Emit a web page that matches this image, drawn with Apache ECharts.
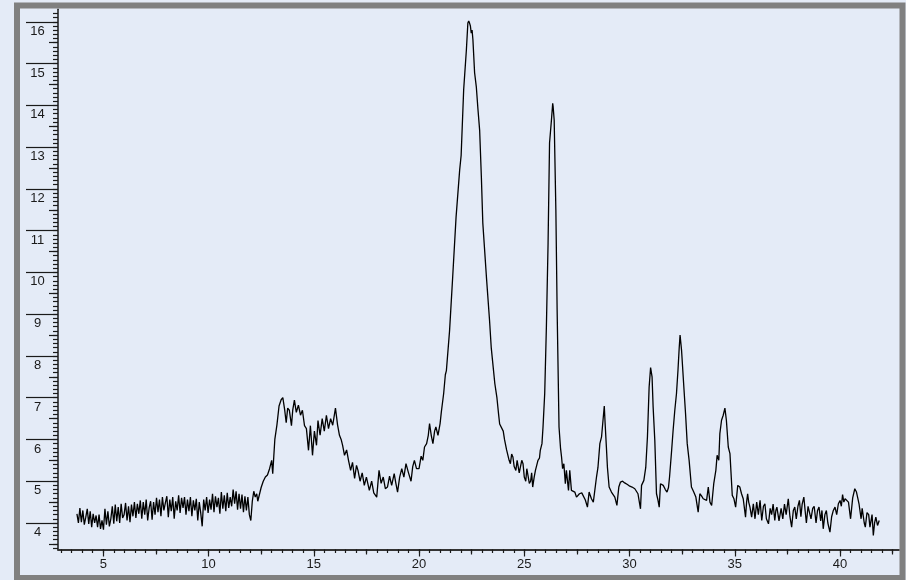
<!DOCTYPE html>
<html lang="en">
<head>
    <meta charset="UTF-8"/>
    <title>Diffractogram</title>
    <script src="https://cdn.jsdelivr.net/npm/echarts@6/dist/echarts.min.js"></script>
    <style>
        body { margin: 0; background: #e4ebf7; }
    </style>
</head>
<body>
<div id="main" style="width: 906px;height: 580px;"></div>
<script type="text/javascript">
    // 2theta / intensity pairs, region by region
    var baseline = [
        [3.75,4.22],[3.82,4.0],[3.89,4.36],[3.96,4.02],[4.03,4.3],[4.10,3.96],[4.17,4.14],[4.24,4.34],[4.31,3.98],[4.38,4.28],
        [4.45,3.9],[4.52,4.22],[4.59,4.0],[4.66,4.18],[4.73,3.9],[4.80,4.2],[4.87,3.86],[4.94,4.06],[5.01,3.84],[5.08,4.34],
        [5.15,3.96],[5.22,4.28],[5.29,3.92],[5.36,4.1],[5.43,4.4],[5.50,3.98],[5.57,4.44],[5.64,4.04],[5.71,4.38],[5.78,4.0],
        [5.85,4.46],[5.92,4.12],[5.99,4.2],[6.06,4.48],[6.13,4.06],[6.20,4.4],[6.27,4.02],[6.34,4.44],[6.41,4.16],[6.48,4.5],
        [6.55,4.12],[6.62,4.46],[6.69,4.22],[6.76,4.54],[6.83,4.1],[6.90,4.5],[6.97,4.2],[7.04,4.56],[7.11,4.06],[7.18,4.36],
        [7.25,4.52],[7.32,4.08],[7.39,4.5],[7.46,4.2],[7.53,4.6],[7.60,4.26],[7.67,4.56],[7.74,4.16],[7.81,4.62],[7.88,4.3],
        [7.95,4.48],[8.02,4.64],[8.09,4.14],[8.16,4.56],[8.23,4.28],[8.30,4.62],[8.37,4.1],[8.44,4.52],[8.51,4.3],[8.58,4.66],
        [8.65,4.24],[8.72,4.6],[8.79,4.36],[8.86,4.62],[8.93,4.2],[9.00,4.56],[9.07,4.28],[9.14,4.62],[9.21,4.16],[9.28,4.54],
        [9.35,4.3],[9.42,4.58],[9.49,4.06],[9.56,4.5],[9.63,4.24],[9.70,3.92],[9.77,4.56],[9.84,4.3],[9.91,4.62],[9.98,4.24],
        [10.05,4.56],[10.12,4.32],[10.19,4.7],[10.26,4.26],[10.33,4.64],[10.40,4.38],[10.47,4.6],[10.54,4.22],[10.61,4.74],[10.68,4.34],
        [10.75,4.66],[10.82,4.28],[10.89,4.72],[10.96,4.36],[11.03,4.62],[11.10,4.4],[11.17,4.8],[11.24,4.46],[11.31,4.76],[11.38,4.32],
        [11.45,4.7],[11.52,4.34],[11.59,4.68],[11.66,4.26],[11.73,4.64],[11.80,4.3],[11.87,4.62],[11.94,4.2],[12.01,4.06],[12.08,4.52],
        [12.15,4.76],[12.22,4.62],[12.29,4.7],[12.34,4.52]
    ];
    var amorphousHump = [
        [12.4,4.5],[12.5,4.85],[12.6,5.0],[12.7,5.1],[12.8,5.15],[12.9,5.3],[13.0,5.5],[13.05,5.18],[13.15,6.0],[13.25,6.35],
        [13.35,6.8],[13.45,6.95],[13.53,7.0],[13.62,6.7],[13.69,6.4],[13.76,6.75],[13.84,6.7],[13.94,6.33],[14.0,6.7],[14.08,6.94],
        [14.17,6.65],[14.27,6.82],[14.37,6.58],[14.46,6.7],[14.56,6.33],[14.65,6.26],[14.75,5.74],[14.84,6.33],[14.94,5.62],[15.03,6.2],
        [15.13,5.86],[15.2,6.45],[15.3,6.1],[15.4,6.5],[15.5,6.2],[15.6,6.58],[15.7,6.26],[15.8,6.5],[15.9,6.34],[16.03,6.75],
        [16.13,6.35],[16.22,6.1],[16.3,6.0],[16.37,5.86],[16.46,5.62],[16.56,5.75],[16.65,5.5],[16.75,5.26],[16.84,5.45],[16.94,5.07],
        [17.03,5.38],[17.1,5.26],[17.2,5.0],[17.3,5.2],[17.4,4.9],[17.5,5.1],[17.64,4.78],[17.75,5.0],[17.85,4.72],[17.99,4.62],
        [18.1,5.26],[18.2,4.95],[18.3,5.1],[18.4,4.82],[18.5,4.86],[18.6,5.12],[18.7,4.9],[18.82,5.18],[18.9,4.95],[18.98,4.74],
        [19.08,5.1],[19.18,5.3],[19.28,5.1],[19.38,5.42],[19.5,5.2],[19.62,5.0],[19.7,5.35],[19.78,5.5],[19.88,5.3],[20.0,5.3],
        [20.1,5.6],[20.18,5.5],[20.26,5.82],[20.36,5.9],[20.44,6.1],[20.5,6.38],[20.58,6.1],[20.66,5.9],[20.74,6.2],[20.8,6.3],
        [20.9,6.1],[21.0,6.38],[21.06,6.66],[21.17,7.1]
    ];
    var mainPeaks = [
        [21.25,7.55],[21.3,7.65],[21.45,8.6],[21.6,9.9],[21.76,11.33],[21.93,12.45],[22.0,12.8],[22.12,14.37],[22.25,15.33],[22.32,15.97],
        [22.36,16.02],[22.4,15.97],[22.44,15.9],[22.48,15.73],[22.52,15.8],[22.56,15.57],[22.64,14.78],[22.72,14.45],[22.8,13.9],[22.88,13.4],
        [22.96,12.3],[23.03,11.18],[23.2,9.9],[23.35,8.85],[23.43,8.2],[23.6,7.34],[23.7,7.0],[23.78,6.6],[23.83,6.37],[23.9,6.4],
        [24.0,6.2],[24.06,6.0],[24.1,5.9],[24.16,5.75],[24.23,5.74],[24.28,5.5],[24.34,5.42],[24.4,5.65],[24.46,5.58],[24.52,5.35],
        [24.6,5.26],[24.66,5.5],[24.7,5.5],[24.76,5.2],[24.81,5.18],[24.88,5.5],[24.94,5.42],[25.0,5.1],[25.07,5.0],[25.12,5.3],
        [25.17,5.26],[25.24,4.95],[25.3,5.0],[25.35,5.2],[25.4,4.86],[25.47,5.1],[25.53,5.26],[25.6,5.3],[25.65,5.5],[25.72,5.55],
        [25.76,5.74],[25.84,5.9],[25.89,6.3],[25.97,7.1],[26.05,8.7],[26.13,10.7],[26.2,13.1],[26.29,13.65],[26.35,14.05],[26.37,13.97],
        [26.42,13.65],[26.5,11.5],[26.56,9.1],[26.65,6.3],[26.72,5.8],[26.77,5.58],[26.82,5.3],[26.88,5.42],[26.95,4.94],[27.0,5.26],
        [27.05,5.3],[27.1,4.78],[27.16,5.26],[27.24,4.78],[27.32,4.75],[27.4,4.74],[27.48,4.62],[27.55,4.58],[27.62,4.7],[27.67,4.74],
        [27.73,4.72],[27.8,4.7],[27.9,4.55],[28.0,4.38],[28.08,4.74],[28.14,4.65],[28.19,4.58],[28.28,4.5],[28.35,4.46]
    ];
    var minorPeaks = [
        [28.43,5.1],[28.5,5.33],[28.59,5.9],[28.67,6.06],[28.74,6.46],[28.78,6.5],[28.8,6.8],[28.84,6.38],[28.9,5.82],[28.95,5.33],
        [29.03,4.86],[29.14,4.74],[29.22,4.68],[29.3,4.62],[29.4,4.42],[29.49,4.86],[29.57,4.98],[29.67,5.0],[29.77,4.96],[29.9,4.92],
        [30.01,4.88],[30.12,4.86],[30.25,4.82],[30.34,4.78],[30.4,4.7],[30.52,4.34],[30.57,4.9],[30.68,5.02],[30.77,5.33],[30.85,6.06],
        [30.93,7.25],[31.0,7.72],[31.07,7.5],[31.12,6.78],[31.2,5.98],[31.28,4.7],[31.35,4.55],[31.41,4.38],[31.47,4.94],[31.55,4.92],
        [31.6,4.9],[31.7,4.8],[31.78,4.74],[31.85,4.85],[31.9,5.1],[32.0,5.74],[32.07,6.22],[32.15,6.7],[32.23,7.1],[32.3,7.65],
        [32.36,8.2],[32.4,8.5],[32.47,8.14],[32.58,7.25],[32.66,6.62],[32.74,5.9],[32.83,5.5],[32.94,4.86],[33.0,4.9],[33.05,4.74],
        [33.15,4.62],[33.26,4.26],[33.34,4.7],[33.42,4.65],[33.5,4.58],[33.58,4.6],[33.66,4.54],[33.74,4.86],[33.82,4.5],[33.9,4.42],
        [34.0,4.94],[34.1,5.26],[34.16,5.62],[34.24,5.5],[34.29,6.14],[34.37,6.46],[34.45,6.58],[34.5,6.55],[34.53,6.75],[34.6,6.46],
        [34.69,5.82],[34.77,5.66],[34.88,4.66],[34.96,4.58],[35.04,4.38],[35.14,4.9],[35.2,4.88],[35.24,4.86],[35.32,4.7],[35.4,4.58],
        [35.51,4.14],[35.56,4.5],[35.61,4.7],[35.66,4.5],[35.72,4.38],[35.8,4.14],[35.88,4.46],[35.96,4.1],[36.04,4.5]
    ];
    var tail = [
        [36.12,4.2],[36.2,4.54],[36.28,4.06],[36.36,4.4],[36.43,4.46],[36.5,4.1],[36.6,3.98],[36.68,4.35],[36.75,4.2],[36.82,4.45],
        [36.9,4.06],[36.95,4.3],[37.0,4.38],[37.1,4.05],[37.2,4.35],[37.28,4.1],[37.36,4.45],[37.44,4.2],[37.54,4.58],[37.62,4.15],
        [37.7,3.9],[37.78,4.3],[37.85,4.38],[37.92,4.1],[38.0,4.4],[38.07,4.54],[38.14,4.15],[38.2,4.45],[38.28,4.62],[38.34,4.3],
        [38.4,4.0],[38.48,4.4],[38.55,4.38],[38.62,4.1],[38.7,4.35],[38.77,4.4],[38.86,4.0],[38.93,4.3],[39.0,4.38],[39.08,4.05],
        [39.14,4.3],[39.2,3.86],[39.28,4.2],[39.35,4.3],[39.42,4.0],[39.52,3.78],[39.6,4.15],[39.68,4.3],[39.76,4.38],[39.84,4.2],
        [39.92,4.46],[40.0,4.54],[40.06,4.4],[40.12,4.68],[40.18,4.5],[40.24,4.58],[40.32,4.62],[40.4,4.5],[40.5,4.1],[40.6,4.6],
        [40.7,4.82],[40.78,4.74],[40.84,4.6],[40.9,4.46],[41.0,4.1],[41.05,4.35],[41.1,4.38],[41.15,4.0],[41.2,3.9],[41.28,4.25],
        [41.36,4.2],[41.42,3.9],[41.46,3.94],[41.52,4.2],[41.58,3.7],[41.64,4.0],[41.7,4.14],[41.78,3.94],[41.86,4.06]
    ];

    var xTickLabels = [5, 10, 15, 20, 25, 30, 35, 40];
    var yTickLabels = [4, 5, 6, 7, 8, 9, 10, 11, 12, 13, 14, 15, 16];

    var xMin = 2.85, xMax = 42.8;
    var yMin = 3.365, yMax = 16.3;

    // tick positions for the smaller tick levels
    var xHalfTicks = [], xMinorTicks = [], yHalfTicks = [], yMinorTicks = [];
    for (var v = 7.5; v < xMax; v += 5) xHalfTicks.push(v);
    for (var i = 6; i * 0.5 < xMax; i++) xMinorTicks.push(i * 0.5);
    for (var v2 = 3.5; v2 < yMax; v2 += 1) yHalfTicks.push(v2);
    for (var j = 34; j / 10 < yMax; j++) yMinorTicks.push(j / 10);

    var labelFont = {fontFamily: 'Liberation Sans', fontSize: 13, color: '#1a1a1a'};
    var axisColor = '#1a1a1a';

    function xAxisLevel(ticks, len, withLabels, withLine) {
        return {
            type: 'value', min: xMin, max: xMax, position: 'bottom',
            splitLine: {show: false},
            axisLine: {show: withLine, onZero: false, lineStyle: {color: '#333', width: 2}},
            axisTick: {show: true, customValues: ticks, length: len, lineStyle: {color: axisColor, width: 1.2}},
            axisLabel: withLabels ? Object.assign({show: true, customValues: xTickLabels, margin: 8}, labelFont) : {show: false}
        };
    }
    function yAxisLevel(ticks, len, withLabels, withLine) {
        return {
            type: 'value', min: yMin, max: yMax, position: 'left',
            splitLine: {show: false},
            axisLine: {show: withLine, onZero: false, lineStyle: {color: axisColor, width: 1.5}},
            axisTick: {show: true, customValues: ticks, length: len, lineStyle: {color: axisColor, width: 1.2}},
            axisLabel: withLabels ? Object.assign({
                show: true, customValues: yTickLabels, margin: 20.5,
                align: 'center', verticalAlign: 'top', padding: [3, 0, 0, 0]
            }, labelFont) : {show: false}
        };
    }

    var myChart = echarts.init(document.getElementById('main'));
    myChart.setOption({
        animation: false,
        backgroundColor: '#e4ebf7',
        grid: {left: 58, right: 7, top: 9.3, bottom: 30.5},
        graphic: [{
            type: 'rect',
            shape: {x: 17, y: 5.5, width: 885.5, height: 572.5},
            style: {fill: 'none', stroke: '#808080', lineWidth: 6},
            z: 100
        }],
        xAxis: [
            xAxisLevel(xTickLabels, 7, true, true),
            xAxisLevel(xHalfTicks, 5, false, false),
            xAxisLevel(xMinorTicks, 3.5, false, false)
        ],
        yAxis: [
            yAxisLevel(yTickLabels, 32, true, true),
            yAxisLevel(yHalfTicks, 9, false, false),
            yAxisLevel(yMinorTicks, 5, false, false)
        ],
        series: [{
            type: 'line',
            xAxisIndex: 0,
            yAxisIndex: 0,
            showSymbol: false,
            symbol: 'none',
            lineStyle: {color: '#000', width: 1.3},
            data: baseline.concat(amorphousHump, mainPeaks, minorPeaks, tail)
        }]
    });
</script>
</body>
</html>
